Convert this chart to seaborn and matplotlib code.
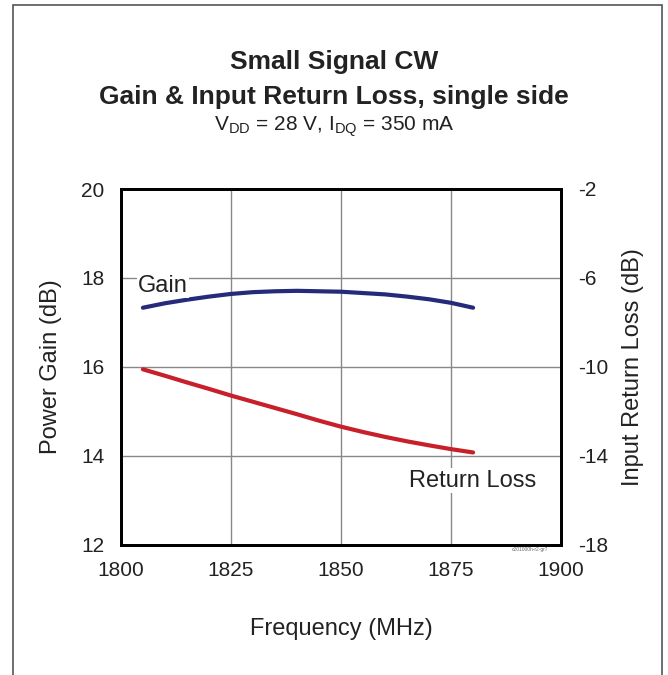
import numpy as np
import pandas as pd
import seaborn as sns
import matplotlib.pyplot as plt

# values
freq = [1805, 1810, 1815, 1820, 1825, 1830, 1835, 1840, 1845, 1850, 1855, 1860, 1865, 1870, 1875, 1880]
gain = [17.33, 17.43, 17.51, 17.58, 17.64, 17.68, 17.70, 17.71, 17.70, 17.69, 17.66, 17.63, 17.58, 17.52, 17.44, 17.33]
ret_loss = [-10.11, -10.40, -10.70, -10.99, -11.29, -11.57, -11.85, -12.13, -12.42, -12.69, -12.93, -13.15, -13.35, -13.53, -13.70, -13.85]

df = pd.DataFrame({'Frequency': freq, 'Gain': gain, 'ReturnLoss': ret_loss})

sns.set_style('white')
plt.rcParams['font.family'] = ['Liberation Sans', 'DejaVu Sans']
plt.rcParams['mathtext.fontset'] = 'custom'
plt.rcParams['mathtext.rm'] = 'Liberation Sans'
plt.rcParams['axes.unicode_minus'] = False

fig = plt.figure(figsize=(6.68, 6.75), dpi=100)
ax = fig.add_axes([0.181, 0.193, 0.659, 0.527])
ax2 = ax.twinx()

sns.lineplot(data=df, x='Frequency', y='Gain', ax=ax, color='#262a7a', linewidth=3, zorder=3)
sns.lineplot(data=df, x='Frequency', y='ReturnLoss', ax=ax2, color='#c8202a', linewidth=3, zorder=3)

ax.set_xlim(1800, 1900)
ax.set_ylim(12, 20)
ax2.set_ylim(-18, -2)
ax.set_xticks([1800, 1825, 1850, 1875, 1900])
ax.set_yticks([12, 14, 16, 18, 20])
ax2.set_yticks([-18, -14, -10, -6, -2])
ax.grid(True, color='#888888', linewidth=1)
ax.set_axisbelow(True)

ax.set_xlabel('Frequency (MHz)', fontsize=17, labelpad=27, color='#222222')
ax.set_ylabel('Power Gain (dB)', fontsize=17, labelpad=14, color='#222222')
ax2.set_ylabel('Input Return Loss (dB)', fontsize=17, labelpad=10, color='#222222')
for a in (ax, ax2):
    a.tick_params(axis='y', labelsize=15, length=0, pad=12, labelcolor='#222222')
ax.tick_params(axis='x', labelsize=15, length=0, pad=12, labelcolor='#222222')
for a in (ax, ax2):
    for s in a.spines.values():
        s.set_linewidth(2)
        s.set_color('black')

ax.text(1803.9, 17.69, 'Gain', fontsize=17, va='baseline', ha='left', zorder=4, color='#222222',
        bbox=dict(facecolor='white', edgecolor='none', pad=1))
ax2.text(1894.3, -15.39, 'Return Loss', fontsize=17, va='baseline', ha='right', zorder=4, color='#222222',
         bbox=dict(facecolor='white', edgecolor='none', pad=1))
ax.text(1897, 11.95, 'c201000h-r2-gr7', fontsize=3.5, color='#666666', ha='right', va='top')

fig.text(0.5, 0.908, 'Small Signal CW', fontsize=19, fontweight='bold', ha='center', va='center', color='#222222')
fig.text(0.5, 0.856, 'Gain & Input Return Loss, single side', fontsize=19, fontweight='bold', ha='center', va='center', color='#222222')
fig.text(0.5, 0.812, r'V$_{\mathregular{DD}}$ = 28 V, I$_{\mathregular{DQ}}$ = 350 mA', fontsize=15, ha='center', va='center', color='#222222')

border = plt.Rectangle((0.019, -0.05), 0.972, 1.043, transform=fig.transFigure,
                       fill=False, edgecolor='#555555', linewidth=1.2)
fig.patches.append(border)

fig.savefig('out.png', dpi=100)
